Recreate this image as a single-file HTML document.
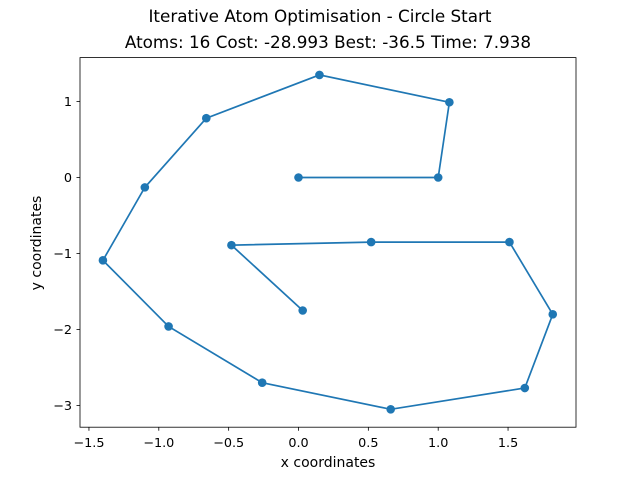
<!DOCTYPE html>
<html><head><meta charset="utf-8"><style>body{margin:0;background:#fff}svg{display:block;font-family:"DejaVu Sans","Liberation Sans",sans-serif}</style></head>
<body>
<svg id="c" width="640" height="480">
<text x="320" y="22" text-anchor="middle" font-size="16.8">Iterative Atom Optimisation - Circle Start</text>
<text x="328" y="48" text-anchor="middle" font-size="16.8">Atoms: 16 Cost: -28.993 Best: -36.5 Time: 7.938</text>
<g id="ticks"></g>
<g id="plot"></g>
<rect x="80" y="57.6" width="496" height="369.6" fill="none" stroke="#000" stroke-width="0.8"/>
<text x="328" y="467" text-anchor="middle" font-size="14">x coordinates</text>
<text transform="translate(41,243) rotate(-90)" text-anchor="middle" font-size="14">y coordinates</text>
</svg>
<script>
const xs=[0,1.0,1.08,0.15,-0.66,-1.10,-1.40,-0.93,-0.26,0.66,1.62,1.82,1.51,0.52,-0.48,0.03];
const ys=[0,0,0.99,1.35,0.78,-0.13,-1.09,-1.96,-2.70,-3.05,-2.77,-1.80,-0.85,-0.85,-0.89,-1.75];
const xTicks=[-1.5,-1.0,-0.5,0.0,0.5,1.0,1.5];
const xTickLabels=["−1.5","−1.0","−0.5","0.0","0.5","1.0","1.5"];
const yTicks=[1,0,-1,-2,-3];
const yTickLabels=["1","0","−1","−2","−3"];
const NS="http://www.w3.org/2000/svg";
const X=v=>298.5+v*139.7, Y=v=>177.5-v*76;
const tg=document.getElementById('ticks'), pg=document.getElementById('plot');
function mk(t,a,p){const e=document.createElementNS(NS,t);for(const k in a)e.setAttribute(k,a[k]);p.appendChild(e);return e;}
xTicks.forEach((v,i)=>{
 const l=mk('line',{x1:X(v),x2:X(v),y1:427.2,y2:430.7,stroke:'#000','stroke-width':0.8},tg);
 
 
 const t=mk('text',{x:X(v),y:447,'text-anchor':'middle','font-size':12.8},tg);t.textContent=xTickLabels[i];
 
 
});
yTicks.forEach((v,i)=>{
 const l=mk('line',{x1:76.5,x2:80,y1:Y(v),y2:Y(v),stroke:'#000','stroke-width':0.8},tg);
 
 
 const t=mk('text',{x:72,y:Y(v)+4.7,'text-anchor':'end','font-size':12.8},tg);t.textContent=yTickLabels[i];
 
 
});
const pl=mk('polyline',{points:xs.map((v,i)=>X(v)+','+Y(ys[i])).join(' '),fill:'none',stroke:'#1f77b4','stroke-width':1.7},pg);


xs.forEach((v,i)=>{
 const c=mk('circle',{cx:X(v),cy:Y(ys[i]),r:4.3,fill:'#1f77b4'},pg);
 
 
});
</script>
</body></html>
